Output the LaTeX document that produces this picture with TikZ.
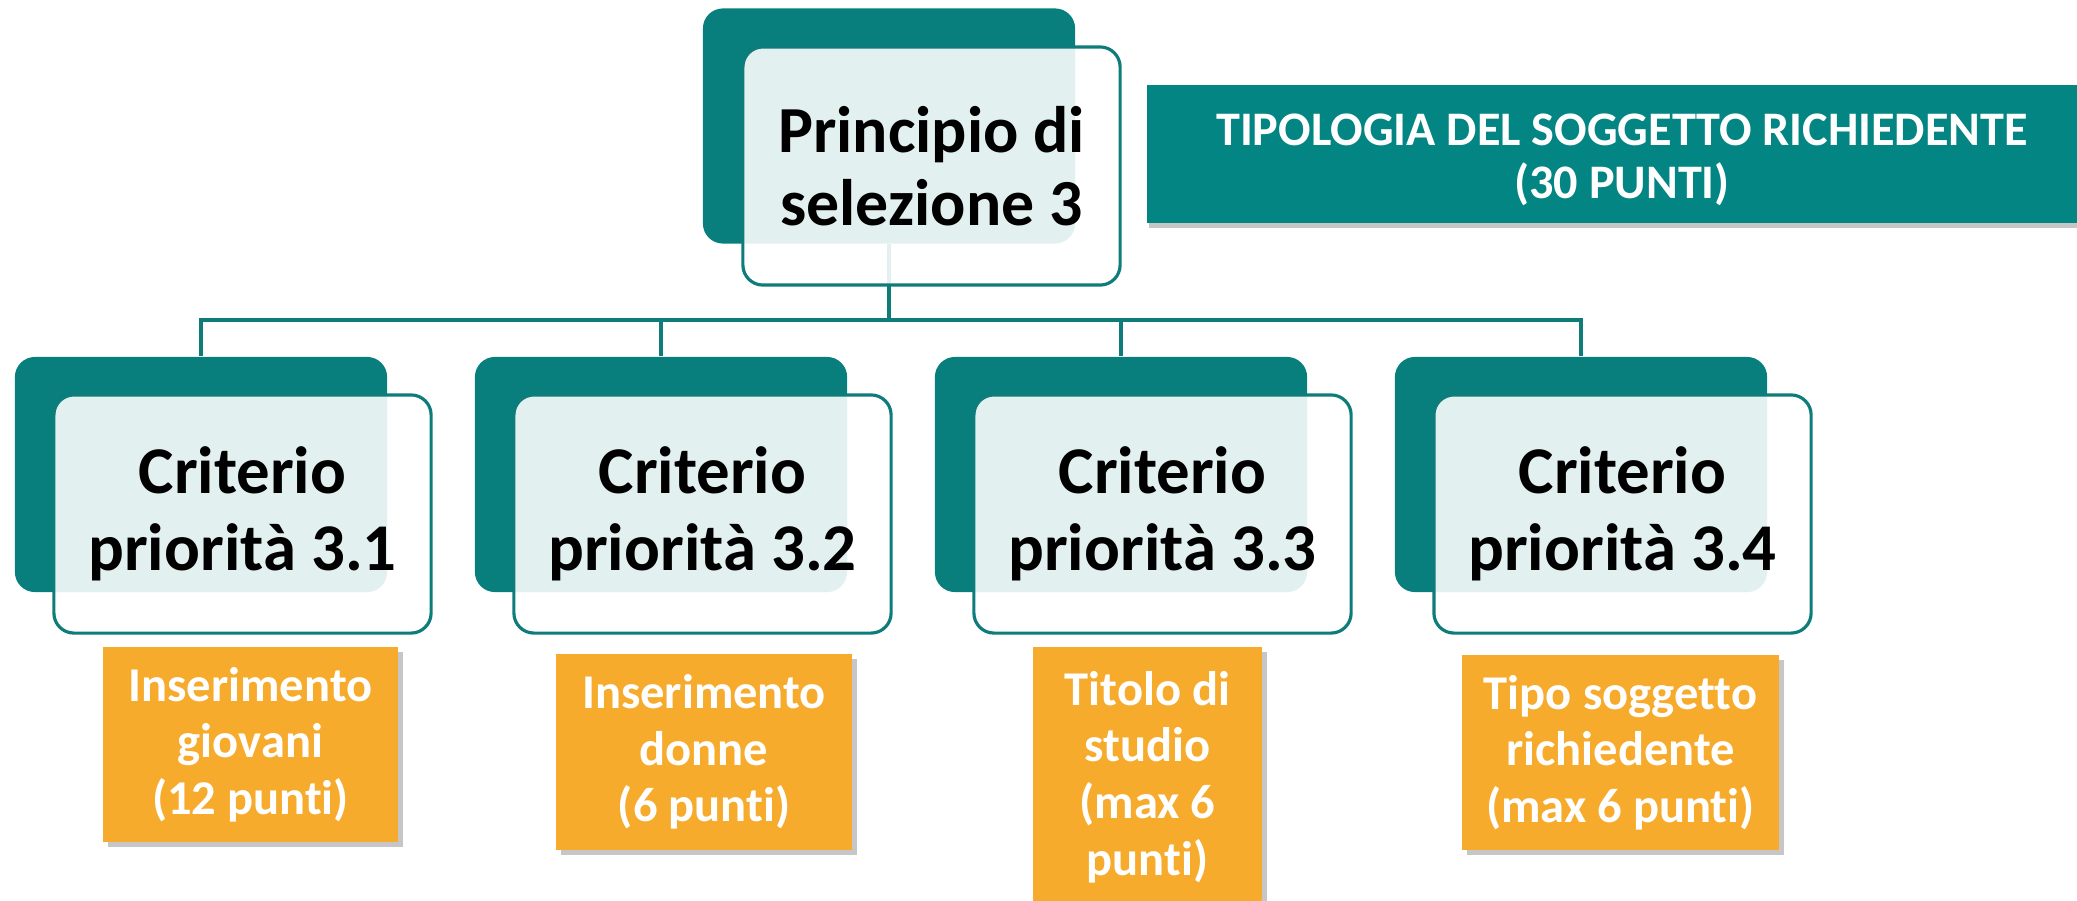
\documentclass[tikz,border=0pt]{standalone}
\usepackage{fontspec}
\setmainfont{Carlito}[Ligatures=NoCommon]
\usetikzlibrary{shadows}
\definecolor{tealdark}{HTML}{087F7D}
\definecolor{tealline}{HTML}{0E7C7B}
\definecolor{bannerteal}{HTML}{038683}
\definecolor{puntiorange}{HTML}{F7AB2C}

\begin{document}
\begin{tikzpicture}[x=0.01cm, y=-0.01cm,
    backbox/.style={fill=tealdark, rounded corners=0.2cm, minimum width=3.72cm, minimum height=2.35cm, inner sep=0pt},
    frontbox/.style={draw=tealline, line width=0.9pt, fill=white, fill opacity=0.89, text opacity=1, rounded corners=0.2cm,
        minimum width=3.77cm, minimum height=2.38cm, align=center, inner sep=0pt, font=\bfseries\fontsize{19}{21.8}\selectfont},
    puntibox/.style={fill=puntiorange, text=white, align=center, inner sep=0pt, font=\bfseries\fontsize{13.8}{16.1}\selectfont,
        drop shadow={shadow xshift=0.05cm, shadow yshift=-0.05cm, opacity=0.45}},
    link/.style={draw=tealline, line width=0.9pt}]
        \useasboundingbox (0,0) rectangle (2077,900);

        \node[backbox] (sel) at (889,126) {};
        \node[backbox] (crit1) at (201,474.5) {};
        \node[backbox] (crit2) at (661,474.5) {};
        \node[backbox] (crit3) at (1121,474.5) {};
        \node[backbox] (crit4) at (1581,474.5) {};

        \coordinate (bus) at (889,320);
        \draw[link] (sel.south) -- (bus);
        \draw[link] (crit1.north) |- (bus);
        \draw[link] (crit2.north) |- (bus);
        \draw[link] (crit3.north) |- (bus);
        \draw[link] (crit4.north) |- (bus);

        \node[frontbox, font=\bfseries\fontsize{18.7}{20.7}\selectfont] (selt) at (931.5,166) {Principio di\\selezione 3};
        \node[frontbox] (crit1t) at (242.5,514) {Criterio\\priorità 3.1};
        \node[frontbox] (crit2t) at (702.5,514) {Criterio\\priorità 3.2};
        \node[frontbox] (crit3t) at (1162.5,514) {Criterio\\priorità 3.3};
        \node[frontbox] (crit4t) at (1622.5,514) {Criterio\\priorità 3.4};

        \node[fill=bannerteal, minimum width=9.5cm, minimum height=1.38cm,
            drop shadow={shadow xshift=0.02cm, shadow yshift=-0.05cm, opacity=0.45}] (tipo) at (1622,154) {};
        \node[text=white, align=center, inner sep=0pt, font=\bfseries\fontsize{13.7}{15.1}\selectfont]
            (tipot) at ([yshift=-0.06cm]tipo.center) {TIPOLOGIA DEL SOGGETTO RICHIEDENTE\\(30 PUNTI)};

        \node[puntibox, minimum width=2.95cm, minimum height=1.95cm] (giovani) at (250.5,744.5) {Inserimento\\giovani\\(12 punti)};
        \node[puntibox, minimum width=2.96cm, minimum height=1.96cm] (donne) at (704,752) {Inserimento\\donne\\(6 punti)};
        \node[puntibox, minimum width=2.29cm, minimum height=2.6cm] (studio) at (1147.5,777) {Titolo di\\studio\\(max 6\\punti)};
        \node[puntibox, minimum width=3.17cm, minimum height=1.95cm] (tiposogg) at (1620.5,752.5) {Tipo soggetto\\richiedente\\(max 6 punti)};
    \end{tikzpicture}
\end{document}
